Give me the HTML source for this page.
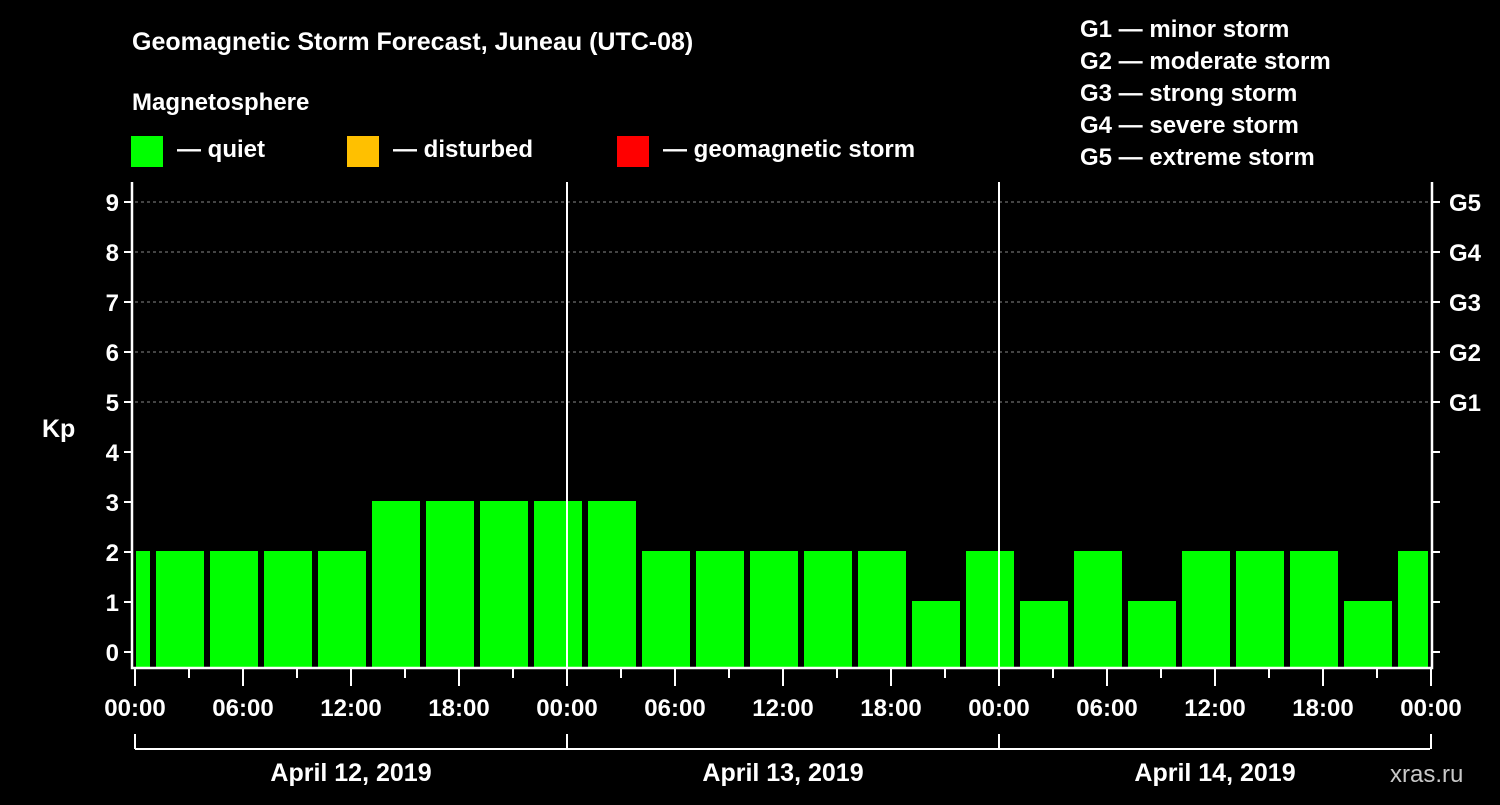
<!DOCTYPE html>
<html><head><meta charset="utf-8"><style>
body{margin:0;background:#000;}
svg text{font-family:"Liberation Sans",Arial,sans-serif;font-weight:bold;fill:#fff;}
</style></head><body>
<svg id="chart" width="1500" height="800" xmlns="http://www.w3.org/2000/svg">
<rect width="1500" height="800" fill="#000"/>
<text x="132" y="50" font-size="25">Geomagnetic Storm Forecast, Juneau (UTC-08)</text>
<text x="132" y="110" font-size="24">Magnetosphere</text>
<g><rect x="131" y="136" width="32" height="31" fill="#00ff00"/><text x="177" y="157" font-size="24">— quiet</text></g>
<g><rect x="347" y="136" width="32" height="31" fill="#ffc000"/><text x="393" y="157" font-size="24">— disturbed</text></g>
<g><rect x="617" y="136" width="32" height="31" fill="#ff0000"/><text x="663" y="157" font-size="24">— geomagnetic storm</text></g>
<g font-size="24">
<text x="1080" y="37" font-size="24">G1 — minor storm</text>
<text x="1080" y="69" font-size="24">G2 — moderate storm</text>
<text x="1080" y="101" font-size="24">G3 — strong storm</text>
<text x="1080" y="133" font-size="24">G4 — severe storm</text>
<text x="1080" y="165" font-size="24">G5 — extreme storm</text>
</g>
<text x="42" y="437" font-size="25">Kp</text>
<text x="1390" y="782" font-size="24" fill="#bbb" style="fill:#c8c8c8;font-weight:normal">xras.ru</text>
<g id="plot"></g>
</svg>
<script>
const kpValues=[2,2,2,2,2,3,3,3,3,3,2,2,2,2,2,1,2,1,2,1,2,2,2,1,2];
const yTicks=[0,1,2,3,4,5,6,7,8,9];
const gLabels=["G1","G2","G3","G4","G5"];
const xTickLabels=["00:00","06:00","12:00","18:00","00:00","06:00","12:00","18:00","00:00","06:00","12:00","18:00","00:00"];
const dayLabels=["April 12, 2019","April 13, 2019","April 14, 2019"];
const firstBinHour=-2; // local hour of first 3h bin start
const NS="http://www.w3.org/2000/svg";
const X0=135,PXH=18,Y0=652,PXK=50,TOP=182,BOT=668,RIGHT=1430;
const xs=h=>X0+h*PXH, ys=k=>Y0-k*PXK;
const plot=document.getElementById('plot');
function mk(tag,at,parent){const e=document.createElementNS(NS,tag);for(const k in at)e.setAttribute(k,at[k]);(parent||plot).appendChild(e);return e;}
// grid
yTicks.forEach(k=>{if(k>=5){const l=mk('line',{x1:X0,x2:RIGHT,y1:ys(k),y2:ys(k),stroke:'#888','stroke-dasharray':'3,3','stroke-width':1});

}});
// bars
kpValues.forEach((v,i)=>{const h0=firstBinHour+i*3;let x1=xs(h0)+3,x2=xs(h0+3)-3;x1=Math.max(x1,X0+1);x2=Math.min(x2,RIGHT-2);
const c=v>=5?'#ff0000':(v>=4?'#ffc000':'#00ff00');
const r=mk('rect',{x:x1,y:ys(v)-1,width:x2-x1,height:BOT-ys(v)+1,fill:c});

});
// day separators
[24,48].forEach(h=>{const l=mk('line',{x1:xs(h),x2:xs(h),y1:TOP,y2:BOT,stroke:'#fff','stroke-width':2});

});
// axes frame
const ax=mk('path',{d:`M${X0-3},${TOP} V${BOT} H${RIGHT+2} V${TOP}`,stroke:'#fff','stroke-width':2.5,fill:'none'});


// y ticks
yTicks.forEach(k=>{const y=ys(k);
mk('line',{x1:X0-11,x2:X0-3,y1:y,y2:y,stroke:'#fff','stroke-width':2});
mk('line',{x1:RIGHT+2,x2:RIGHT+10,y1:y,y2:y,stroke:'#fff','stroke-width':2});
const t=mk('text',{x:X0-16,y:y+9,'font-size':24,'text-anchor':'end'});t.textContent=k;


if(k>=5){const g=mk('text',{x:1449,y:y+9,'font-size':24});g.textContent=gLabels[k-5];

}});
// x ticks
for(let h=0;h<=72;h+=3){const x=xs(h);const major=h%6===0;
mk('line',{x1:x,x2:x,y1:BOT,y2:BOT+(major?18:10),stroke:'#fff','stroke-width':2});}
xTickLabels.forEach((s,i)=>{const t=mk('text',{x:xs(i*6),y:716,'font-size':24,'text-anchor':'middle'});t.textContent=s;

});
// day bracket
mk('line',{x1:X0,x2:RIGHT,y1:749,y2:749,stroke:'#fff','stroke-width':2});
[0,24,48,72].forEach(h=>mk('line',{x1:xs(h),x2:xs(h),y1:734,y2:749,stroke:'#fff','stroke-width':2}));
dayLabels.forEach((s,i)=>{const t=mk('text',{x:xs(i*24+12),y:781,'font-size':25,'text-anchor':'middle'});t.textContent=s;

});
</script>
</body></html>
